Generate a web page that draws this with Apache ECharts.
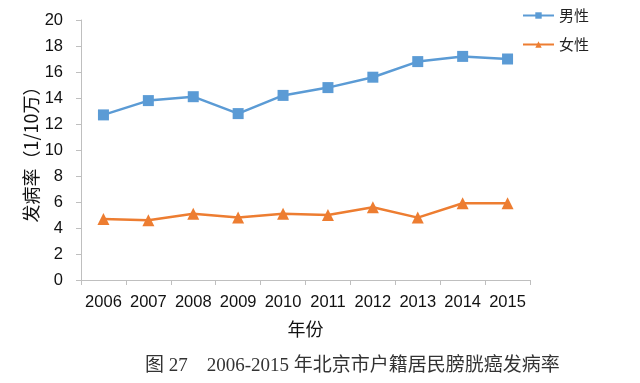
<!DOCTYPE html>
<html>
<head>
<meta charset="utf-8">
<script src="https://cdn.jsdelivr.net/npm/echarts@6/dist/echarts.min.js"></script>
<style>html,body{margin:0;padding:0;background:#fff;}#c{width:640px;height:383px;}</style>
</head>
<body>
<div id="c"></div>
<script>
var categories = ['2006','2007','2008','2009','2010','2011','2012','2013','2014','2015'];
var maleValues = [12.7, 13.8, 14.1, 12.8, 14.2, 14.8, 15.6, 16.8, 17.2, 17.0];
var femaleValues = [4.7, 4.6, 5.1, 4.8, 5.1, 5.0, 5.6, 4.8, 5.9, 5.9];
var seriesNames = ['男性', '女性'];
var yAxisName = '发病率（1/10万）';
var xAxisName = '年份';
var captionText = '图 27    2006-2015 年北京市户籍居民膀胱癌发病率';

var chart = echarts.init(document.getElementById('c'));
var sans = 'Liberation Sans, "Noto Sans CJK SC", sans-serif';
chart.setOption({
  animation: false,
  backgroundColor: '#fff',
  grid: { left: 81, right: 110, top: 20, bottom: 103, containLabel: false },
  legend: {
    orient: 'vertical',
    left: 522,
    top: 8,
    padding: 0,
    itemWidth: 31,
    itemHeight: 8,
    itemGap: 14,
    data: seriesNames,
    textStyle: { fontFamily: '"Noto Sans CJK SC", sans-serif', fontSize: 15, color: '#222' }
  },
  xAxis: {
    type: 'category',
    data: categories,
    boundaryGap: true,
    name: xAxisName,
    nameLocation: 'middle',
    nameGap: 40,
    nameMoveOverlap: false,
    nameTextStyle: { fontFamily: '"Noto Sans CJK SC", sans-serif', fontSize: 18, color: '#111' },
    axisLine: { lineStyle: { color: '#bfbfbf', width: 1 } },
    axisTick: { show: true, length: 5, lineStyle: { color: '#bfbfbf' } },
    axisLabel: { fontFamily: sans, fontSize: 16.5, color: '#111', margin: 14, interval: 0 }
  },
  yAxis: {
    type: 'value',
    min: 0, max: 20, interval: 2,
    name: yAxisName,
    nameLocation: 'middle',
    nameRotate: 90,
    nameGap: 41,
    nameMoveOverlap: false,
    nameTextStyle: { fontFamily: '"Noto Sans CJK SC", sans-serif', fontSize: 18, color: '#111' },
    axisLine: { show: true, lineStyle: { color: '#bfbfbf', width: 1 } },
    axisTick: { show: true, length: 5, lineStyle: { color: '#bfbfbf' } },
    splitLine: { show: false },
    axisLabel: { fontFamily: sans, fontSize: 16.5, color: '#111', margin: 18 }
  },
  series: [
    {
      name: seriesNames[0], type: 'line', data: maleValues,
      symbol: 'rect', symbolSize: 11,
      lineStyle: { color: '#5b9bd5', width: 2.5 },
      itemStyle: { color: '#5b9bd5' }
    },
    {
      name: seriesNames[1], type: 'line', data: femaleValues,
      symbol: 'triangle', symbolSize: 12,
      lineStyle: { color: '#ed7d31', width: 2.5 },
      itemStyle: { color: '#ed7d31' }
    }
  ],
  graphic: [
    {
      type: 'text', left: 145, top: 357,
      style: { text: captionText, font: '19px "Liberation Serif", "Noto Sans CJK SC", serif', fill: '#333' }
    }
  ]
});
</script>
</body>
</html>
